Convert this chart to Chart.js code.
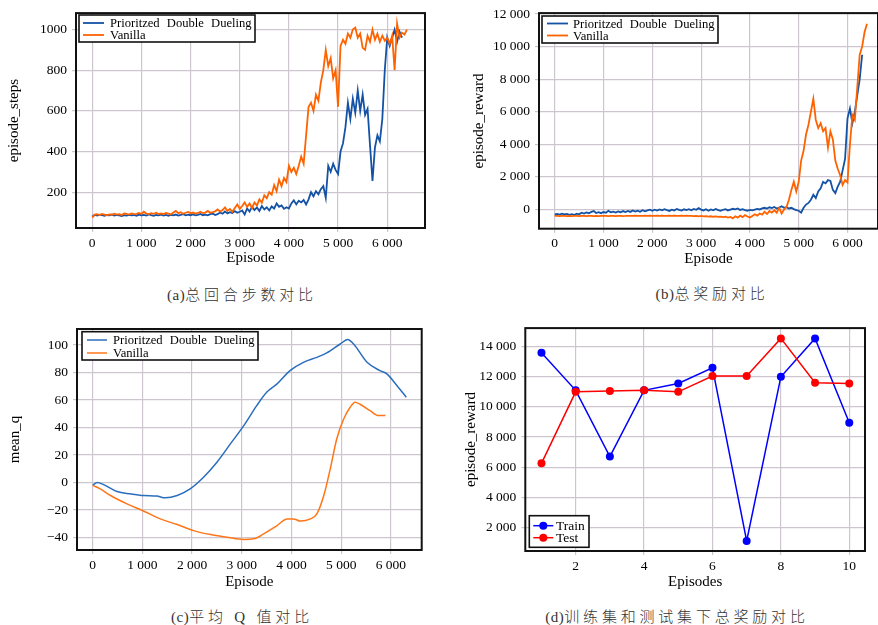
<!DOCTYPE html>
<html>
<head>
<meta charset="utf-8">
<script src="https://cdn.jsdelivr.net/npm/chart.js@4.4.1/dist/chart.umd.min.js"></script>
<style>
  body { margin: 0; background: #fff; width: 878px; height: 625px; position: relative; overflow: hidden; }
  canvas { position: absolute; }
  .cap { position: absolute; font-family: "Liberation Serif", "Noto Sans CJK SC"; font-size: 15px; line-height: 20px; color: #333;
         font-weight: 300; transform: translateX(-50%); white-space: nowrap; letter-spacing: 3.8px; }
  .cap span { letter-spacing: 0.5px; }
</style>
</head>
<body>
<canvas id="chartA" style="left:0;top:0" width="440" height="275"></canvas>
<canvas id="chartB" style="left:440px;top:0" width="438" height="275"></canvas>
<canvas id="chartC" style="left:0;top:315px" width="440" height="282"></canvas>
<canvas id="chartD" style="left:440px;top:315px" width="438" height="282"></canvas>
<div class="cap" style="left:242px;top:285px"><span>(a)</span>总回合步数对比</div>
<div class="cap" style="left:712px;top:284px"><span>(b)</span>总奖励对比</div>
<div class="cap" style="left:242px;top:607px"><span>(c)</span>平均 Q 值对比</div>
<div class="cap" style="left:677px;top:607px"><span>(d)</span>训练集和测试集下总奖励对比</div>
<script>
// episodes sampled every 50 for the training curves
const EPISODES = Array.from({length: 129}, (_, i) => i * 50)

const stepsPDD = [
  80,88,85,90,87,84,88,86,90,85, 88,86,83,87,85,89,86,88,84,90,
  86,88,85,91,87,84,88,86,90,85, 88,84,89,86,90,85,88,92,86,90,
  87,91,86,89,93,87,90,86,92,95, 88,92,100,94,105,96,102,98,107,99,
  104,110,90,120,105,128,112,125,108,132, 115,126,110,130,120,145,128,135,118,126,
  120,145,160,140,158,150,162,140,165,200, 180,205,190,215,230,172,330,300,340,310,
  290,400,440,520,640,560,660,590,700,600, 680,580,610,430,255,420,480,450,560,800,
  960,920,960,1000,940,990,960
]
const stepsVanilla = [
  75,90,92,88,93,90,87,91,89,94, 90,92,88,95,93,90,96,92,94,98,
  93,104,95,92,97,94,99,93,96,92, 98,95,91,100,108,97,102,94,99,103,
  96,100,95,98,104,97,100,108,99,102, 106,115,105,112,125,108,118,104,122,140,
  118,132,150,128,145,122,150,135,165,148, 185,170,200,188,235,205,262,230,270,250,
  330,300,320,290,330,375,340,480,620,640, 600,680,650,740,800,900,820,860,760,800,
  620,920,950,930,980,960,1000,1010,960,980, 910,900,970,940,1000,950,980,940,970,945,
  960,930,970,800,1030,960,985,975,1000
]
const rewardPDD = [
  -300,-280,-320,-260,-300,-280,-330,-290,-340,-260, -300,-200,-250,-180,-230,-150,-100,-220,-170,-230,
  -160,-200,-80,-180,-140,-190,-120,-170,-100,-160, -90,-150,-60,-130,-80,-140,-50,-110,-60,-10,
  -80,-20,-70,0,-50,20,-40,-90,-10,-60, 30,-30,-70,10,-40,20,-50,30,-20,80,
  -10,-60,10,-80,0,-50,30,-40,-90,-20, 20,-60,-10,40,10,60,-30,20,-40,-80,
  -30,-60,-10,30,0,60,100,50,130,80, 150,60,120,200,100,140,60,100,20,-40,
  -80,-200,100,300,400,600,900,700,1100,1300, 1700,1600,1800,1750,1200,1000,1400,1700,2400,3100,
  5600,6200,5300,6000,7000,8000,9500
]
const rewardVanilla = [
  -400,-390,-410,-400,-395,-405,-400,-410,-395,-400, -405,-400,-395,-410,-400,-395,-405,-400,-410,-395,
  -400,-390,-405,-400,-395,-410,-400,-395,-405,-400, -390,-400,-395,-380,-400,-390,-400,-385,-395,-380,
  -390,-400,-385,-395,-380,-400,-390,-380,-395,-385, -400,-390,-380,-395,-385,-400,-390,-410,-395,-420,
  -400,-430,-410,-440,-420,-450,-430,-460,-440,-470, -450,-500,-460,-550,-420,-500,-380,-470,-350,-430,
  -500,-400,-300,-380,-250,-320,-150,-280,-100,-200, -50,-200,100,-250,0,150,600,1200,1700,1100,
  1700,3000,3600,4600,5200,6000,6800,5500,5000,5300, 4800,5000,3800,4800,4300,3000,2500,2100,1500,1800,
  1650,4000,5800,5500,7500,9500,10000,10900,11400
]

const qEpisodesPDD = [0,90,220,490,760,1030,1290,1460,1700,1960,2230,2500,2770,3040,3300,3500,3710,3970,4240,4510,4710,4980,5130,5250,5520,5780,5920,6120,6310]
const qPDD = [-2,0,-1.5,-6.5,-8.2,-9.4,-9.8,-11.1,-9.4,-4.6,3.9,14.8,28.1,41.4,55.9,65.6,71.7,81.4,87.4,91,94.2,100.7,104,100.7,87.4,81.4,79,70.5,62]
const qEpisodesVanilla = [0,150,360,690,1030,1360,1700,2030,2370,2700,3040,3240,3440,3710,3910,4040,4180,4380,4510,4650,4780,4910,5050,5180,5280,5380,5580,5750,5890]
const qVanilla = [-2,-4.6,-9.4,-15.5,-20.8,-26.4,-30.5,-34.9,-37.8,-39.7,-41.4,-40.9,-37.3,-31.2,-26.4,-26.4,-28,-26.4,-22.8,-9.4,10,31.7,46.2,54.7,58.4,56.9,52.3,48.7,48.7]

const testEpisodes = [1,2,3,4,5,6,7,8,9,10]
const trainReward = [13600,11100,6700,11100,11550,12600,1100,12000,14550,8950]
const testReward = [6250,11000,11050,11100,11000,12050,12050,14550,11600,11550]

const episodeTicks = [0,1000,2000,3000,4000,5000,6000]
const stepsTicks = [200,400,600,800,1000]
const rewardTicks = [0,2000,4000,6000,8000,10000,12000]
const qTicks = [-40,-20,0,20,40,60,80,100]
const testTicks = [2,4,6,8,10]
const testRewardTicks = [2000,4000,6000,8000,10000,12000,14000]

const SERIF = "'Liberation Serif', serif"
const INK = '#000'
const GRID = '#cdc6cf'

function spaced(v) {
  return String(Math.abs(v)).replace(/\B(?=(\d{3})+(?!\d))/g, ' ').replace(/^/, v < 0 ? '\u2212' : '')
}

function pairs(xs, ys) {
  return ys.map((y, i) => ({x: xs[i], y: y}))
}

const framePlugin = {
  id: 'frame',
  afterDraw(chart) {
    let a = chart.chartArea
    let ctx = chart.ctx
    ctx.save()
    ctx.strokeStyle = '#111'
    ctx.lineWidth = 2
    ctx.strokeRect(a.left, a.top, a.right - a.left, a.bottom - a.top)
    ctx.restore()
  }
}

const boxLegend = {
  id: 'boxLegend',
  afterDraw(chart, args, o) {
    if (!o || !o.rows) return
    let ctx = chart.ctx
    ctx.save()
    ctx.fillStyle = '#fff'
    ctx.fillRect(o.x, o.y, o.w, o.h)
    ctx.strokeStyle = '#111'
    ctx.lineWidth = 1.6
    ctx.strokeRect(o.x, o.y, o.w, o.h)
    ctx.font = o.font
    ctx.wordSpacing = o.wordSpacing || '0px'
    ctx.textBaseline = 'middle'
    chart.data.datasets.forEach((ds, i) => {
      let y = o.rows[i]
      ctx.strokeStyle = ds.borderColor
      ctx.lineWidth = ds.borderWidth
      ctx.beginPath()
      ctx.moveTo(o.lineX[0], y)
      ctx.lineTo(o.lineX[1], y)
      ctx.stroke()
      if (o.dot) {
        ctx.fillStyle = ds.backgroundColor
        ctx.beginPath()
        ctx.arc((o.lineX[0] + o.lineX[1]) / 2, y, 4, 0, Math.PI * 2)
        ctx.fill()
      }
      ctx.fillStyle = INK
      ctx.fillText(ds.label, o.textX, y + 1)
    })
    ctx.restore()
  }
}

function buildOptions(p) {
  let tickFont = {family: SERIF, size: 13.5}
  let titleFont = {family: SERIF, size: 15}
  return {
    responsive: false,
    animation: false,
    layout: {padding: {top: p.top, right: p.right, left: 0, bottom: 0}},
    plugins: {legend: {display: false}, tooltip: {enabled: false}, boxLegend: p.legend},
    scales: {
      x: {
        type: 'linear', min: p.xMin, max: p.xMax,
        afterFit: s => { s.height = p.xHeight },
        afterBuildTicks: s => { s.ticks = p.xTicks.map(v => ({value: v})) },
        grid: {color: GRID, lineWidth: 1.2, tickLength: 4},
        border: {display: false},
        ticks: {font: tickFont, color: INK, padding: 3, maxRotation: 0, autoSkip: false, callback: v => spaced(v)},
        title: {display: true, text: p.xTitle, font: titleFont, color: INK, padding: {top: 0, bottom: p.xTitlePad}}
      },
      y: {
        type: 'linear', min: p.yMin, max: p.yMax,
        afterFit: s => { s.width = p.yWidth },
        afterBuildTicks: s => { s.ticks = p.yTicks.map(v => ({value: v})) },
        grid: {color: GRID, lineWidth: 1.2, tickLength: 4},
        border: {display: false},
        ticks: {font: tickFont, color: INK, padding: 5, autoSkip: false, callback: p.yFormat || (v => spaced(v))},
        title: {display: true, text: p.yTitle, font: titleFont, color: INK, padding: {top: p.yTitlePad, bottom: 0}}
      }
    }
  }
}

function lineSet(label, data, color, width, order) {
  return {label: label, data: data, borderColor: color, backgroundColor: color, borderWidth: width,
          pointRadius: 0, tension: 0, order: order}
}

const legendFont = "12.6px 'Liberation Serif'"

new Chart(document.getElementById('chartA'), {
  type: 'line',
  data: {datasets: [
    lineSet('Prioritzed Double Dueling', pairs(EPISODES, stepsPDD), '#1452a6', 1.8, 1),
    lineSet('Vanilla', pairs(EPISODES, stepsVanilla), '#ff6300', 1.8, 0)
  ]},
  options: buildOptions({
    top: 10, right: 15, xHeight: 47, yWidth: 76,
    xMin: -330, xMax: 6768, yMin: 24, yMax: 1081,
    xTicks: episodeTicks, yTicks: stepsTicks, yFormat: v => String(v),
    xTitle: 'Episode', yTitle: 'episode_steps', xTitlePad: 8, yTitlePad: 5,
    legend: {x: 79, y: 15, w: 176, h: 27, rows: [23, 35], lineX: [83, 104], textX: 110, font: legendFont, wordSpacing: '4px'}
  }),
  plugins: [framePlugin, boxLegend]
})

new Chart(document.getElementById('chartB'), {
  type: 'line',
  data: {datasets: [
    lineSet('Prioritzed Double Dueling', pairs(EPISODES, rewardPDD), '#1452a6', 1.8, 1),
    lineSet('Vanilla', pairs(EPISODES, rewardVanilla), '#ff6300', 1.8, 0)
  ]},
  options: buildOptions({
    top: 11.7, right: 0, xHeight: 46.3, yWidth: 99,
    xMin: -322, xMax: 6625, yMin: -1183, yMax: 12060,
    xTicks: episodeTicks, yTicks: rewardTicks,
    xTitle: 'Episode', yTitle: 'episode_reward', xTitlePad: 7, yTitlePad: 30,
    legend: {x: 102, y: 16, w: 176, h: 27, rows: [23.5, 35.5], lineX: [107, 128], textX: 133, font: legendFont, wordSpacing: '4px'}
  }),
  plugins: [framePlugin, boxLegend]
})

new Chart(document.getElementById('chartC'), {
  type: 'line',
  data: {datasets: [
    Object.assign(lineSet('Prioritzed Double Dueling', pairs(qEpisodesPDD, qPDD), '#2a6dbd', 1.5, 1), {cubicInterpolationMode: 'monotone'}),
    Object.assign(lineSet('Vanilla', pairs(qEpisodesVanilla, qVanilla), '#ff7618', 1.5, 0), {cubicInterpolationMode: 'monotone'})
  ]},
  options: buildOptions({
    top: 14, right: 18.3, xHeight: 47, yWidth: 77,
    xMin: -316, xMax: 6620, yMin: -49, yMax: 111.6,
    xTicks: episodeTicks, yTicks: qTicks,
    xTitle: 'Episode', yTitle: 'mean_q', xTitlePad: 6, yTitlePad: 6,
    legend: {x: 82, y: 16.7, w: 176, h: 28.3, rows: [25, 38], lineX: [87, 107], textX: 113, font: legendFont, wordSpacing: '4px'}
  }),
  plugins: [framePlugin, boxLegend]
})

new Chart(document.getElementById('chartD'), {
  type: 'line',
  data: {datasets: [
    Object.assign(lineSet('Train', pairs(testEpisodes, trainReward), '#0000ff', 1.5, 1), {pointRadius: 4, pointBorderWidth: 0}),
    Object.assign(lineSet('Test', pairs(testEpisodes, testReward), '#ff0000', 1.5, 0), {pointRadius: 4, pointBorderWidth: 0})
  ]},
  options: buildOptions({
    top: 12.7, right: 13, xHeight: 46, yWidth: 85.3,
    xMin: 0.527, xMax: 10.46, yMin: 428, yMax: 15233,
    xTicks: testTicks, yTicks: testRewardTicks,
    xTitle: 'Episodes', yTitle: 'episode_reward', xTitlePad: 6, yTitlePad: 22,
    legend: {x: 89.3, y: 200.7, w: 59.7, h: 31.6, rows: [210.7, 222.7], lineX: [93.3, 113.3], textX: 116, dot: true, font: "13.5px 'Liberation Serif'"}
  }),
  plugins: [framePlugin, boxLegend]
})
</script>
</body>
</html>
